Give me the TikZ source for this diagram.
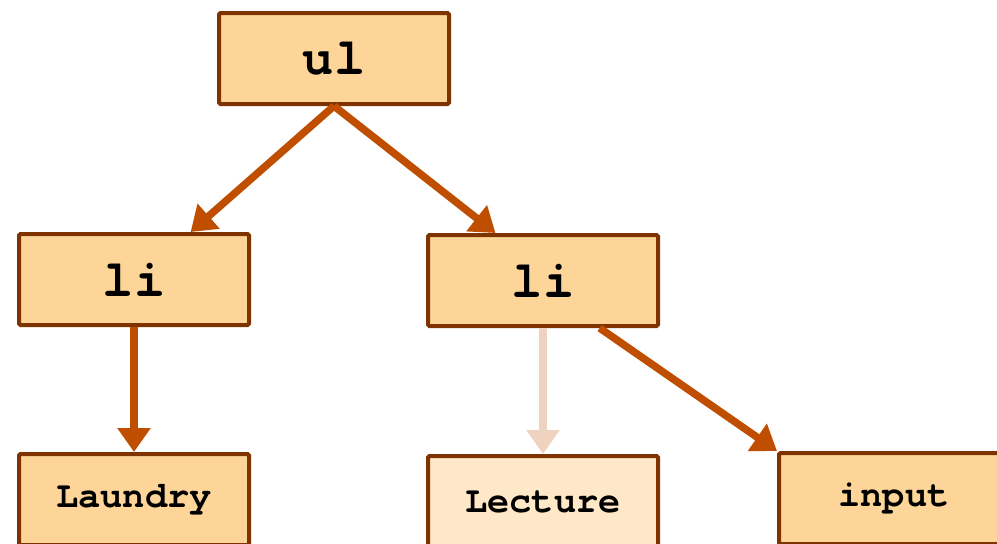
\documentclass[tikz,border=0pt]{standalone}
\usepackage{fontspec}
\newfontfamily\codefont{TeX Gyre Cursor}
\usetikzlibrary{arrows.meta}
\definecolor{boxfill}{HTML}{FDD598}
\definecolor{boxfilllight}{HTML}{FFE8C8}
\definecolor{boxline}{HTML}{7F3300}
\definecolor{edgecol}{HTML}{C04E00}
\definecolor{edgefaint}{HTML}{F0D2C0}
\tikzset{
  tag/.style={draw=boxline, line width=4pt, fill=boxfill, rounded corners=1.5pt,
    minimum width=230pt, minimum height=91pt, inner sep=0pt,
    font=\codefont\bfseries\fontsize{52}{52}\selectfont},
  leaf/.style={tag, font=\codefont\bfseries\fontsize{37}{37}\selectfont},
  edge/.style={draw=edgecol, line width=7.5pt,
    -{Triangle[length=24pt,width=32pt]}},
  faintedge/.style={edge, draw=edgefaint}
}
\begin{document}
\begin{tikzpicture}[x=1pt,y=-1pt]
\useasboundingbox (0,0) rectangle (997,544);
\clip (0,0) rectangle (997,544);
% element nodes
\node[tag] (ul) at (334,58.5) {ul};
\node[tag] (li1) at (134,279.5) {li};
\node[tag] (li2) at (543,280.5) {li};
% leaf nodes
\node[leaf] (laundry) at (134,499.5) {Laundry};
\node[leaf, fill=boxfilllight] (lecture) at (543,501.5) {Lecture};
\node[leaf] (input) at (894,498.5) {input};
% connectors
\draw[edge] (ul.south) -- (li1.40);
\draw[edge] (ul.south) -- (li2.135);
\draw[edge] (li1.south) -- (laundry.north);
\draw[faintedge] (li2.south) -- (lecture.north);
\draw[edge] (li2.-40) -- (input.north west);
\end{tikzpicture}
\end{document}
